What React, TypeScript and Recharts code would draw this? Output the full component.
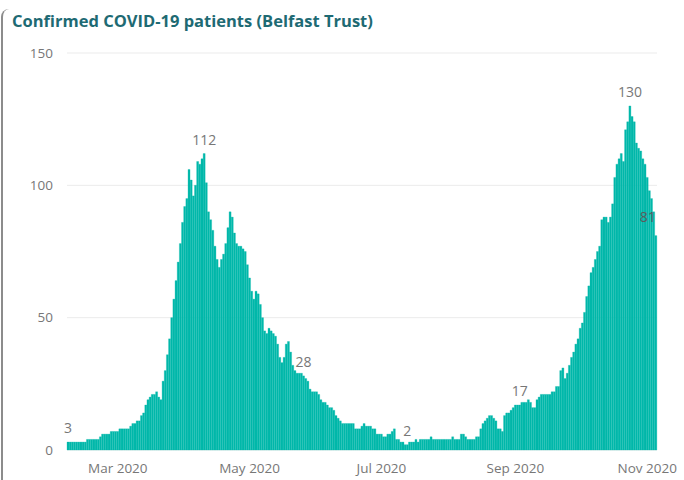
import { BarChart, Bar, XAxis, YAxis, CartesianGrid, LabelList } from "recharts";

const startDate = "2020-02-07";

// daily confirmed patients
const patients = [
  3, 3, 3, 3, 3, 3, 3, 3, 3, 4,
  4, 4, 4, 4, 4, 5, 6, 6, 6, 6,
  7, 7, 7, 7, 8, 8, 8, 8, 8, 9,
  10, 10, 11, 11, 13, 14, 17, 19, 20, 21,
  21, 22, 20, 19, 26, 30, 36, 42, 50, 57,
  64, 71, 78, 86, 92, 95, 106, 102, 96, 100,
  109, 108, 110, 112, 101, 90, 87, 83, 77, 72,
  69, 72, 74, 78, 84, 90, 88, 82, 78, 77,
  77, 76, 75, 70, 65, 60, 57, 60, 59, 55,
  50, 45, 44, 46, 45, 44, 43, 40, 35, 33,
  35, 40, 41, 37, 32, 30, 29, 29, 29, 28,
  27, 26, 23, 22, 22, 22, 21, 19, 18, 18,
  17, 16, 16, 15, 13, 12, 11, 10, 10, 10,
  10, 10, 10, 8, 8, 8, 9, 10, 9, 9,
  9, 8, 8, 6, 6, 6, 5, 5, 6, 6,
  7, 8, 4, 4, 3, 3, 2, 2, 3, 3,
  3, 4, 3, 4, 4, 4, 4, 4, 5, 4,
  4, 4, 4, 4, 4, 4, 4, 4, 5, 4,
  4, 4, 6, 6, 5, 4, 4, 4, 4, 5,
  5, 8, 10, 11, 12, 13, 13, 12, 11, 8,
  8, 7, 13, 14, 14, 15, 16, 17, 17, 17,
  18, 18, 18, 19, 18, 16, 16, 19, 20, 21,
  21, 21, 21, 21, 22, 22, 24, 24, 30, 31,
  27, 29, 32, 35, 37, 40, 42, 46, 48, 52,
  58, 62, 67, 69, 72, 75, 77, 87, 88, 88,
  86, 88, 93, 103, 108, 110, 112, 109, 121, 124,
  130, 126, 124, 116, 114, 113, 110, 108, 103, 98,
  95, 90, 81,
];

const monthTicks = ["2020-03-01", "2020-05-01", "2020-07-01", "2020-09-01", "2020-11-01"];
const monthLabels = ["Mar 2020", "May 2020", "Jul 2020", "Sep 2020", "Nov 2020"];
const yTicks = [0, 50, 100, 150];
// days that carry a data label in the original
const labelledDays = [0, 63, 109, 157, 209, 260, 272];

const font = "'Open Sans', 'Noto Sans', sans-serif";
const barColor = "#01B8AA";

function dayString(i: number) {
  const d = new Date(startDate + "T00:00:00Z");
  d.setUTCDate(d.getUTCDate() + i);
  return d.toISOString().slice(0, 10);
}

const data = patients.map((v, i) => ({
  date: dayString(i),
  patients: v,
  label: labelledDays.includes(i) ? v : null,
}));

function DataLabel(props: any) {
  const { value } = props;
  if (value == null) return null;
  const vb = props.viewBox || props;
  const x = props.x ?? vb.x;
  const y = props.y ?? vb.y;
  const w = props.width ?? vb.width;
  const atEnd = x + w > 650;
  return (
    <text
      x={atEnd ? x + w - 1 : x + w / 2}
      y={atEnd ? y - 14 : y - 9}
      textAnchor={atEnd ? "end" : "middle"}
      fill={atEnd ? "#5c5c5c" : "#777"}
      fontSize={14}
      fontFamily={font}
    >
      {value}
    </text>
  );
}

export default function App() {
  return (
    <div
      style={{
        position: "fixed",
        left: 0,
        top: 0,
        width: 684,
        height: 480,
        background: "#fff",
        overflow: "hidden",
      }}
    >
      <div
        style={{
          position: "absolute",
          left: 1,
          top: 9,
          width: 30,
          height: 500,
          borderLeft: "2px solid #8c8c8c",
          borderTopLeftRadius: 8,
        }}
      />
      <div
        style={{
          position: "absolute",
          left: 12,
          top: 9,
          fontFamily: font,
          fontWeight: 700,
          fontSize: 16.5,
          color: "#1e6a73",
          whiteSpace: "nowrap",
        }}
      >
        Confirmed COVID-19 patients (Belfast Trust)
      </div>
      <BarChart
        width={684}
        height={480}
        data={data}
        margin={{ top: 53, right: 27, bottom: 0, left: 0 }}
        barCategoryGap={0}
      >
        <CartesianGrid vertical={false} stroke="#ebebeb" />
        <XAxis
          dataKey="date"
          ticks={monthTicks}
          interval={0}
          tickFormatter={(d: string) => monthLabels[monthTicks.indexOf(d)] ?? ""}
          axisLine={false}
          tickLine={false}
          tickMargin={7}
          height={30}
          tick={{ fill: "#777", fontSize: 13.5, fontFamily: font }}
        />
        <YAxis
          domain={[0, 150]}
          ticks={yTicks}
          width={67}
          axisLine={false}
          tickLine={false}
          tickMargin={8}
          tick={{ fill: "#777", fontSize: 13.5, fontFamily: font }}
        />
        <Bar
          dataKey="patients"
          fill={barColor}
          stroke={barColor}
          strokeWidth={0.3}
          isAnimationActive={false}
        >
          <LabelList dataKey="label" content={DataLabel} />
        </Bar>
      </BarChart>
    </div>
  );
}
